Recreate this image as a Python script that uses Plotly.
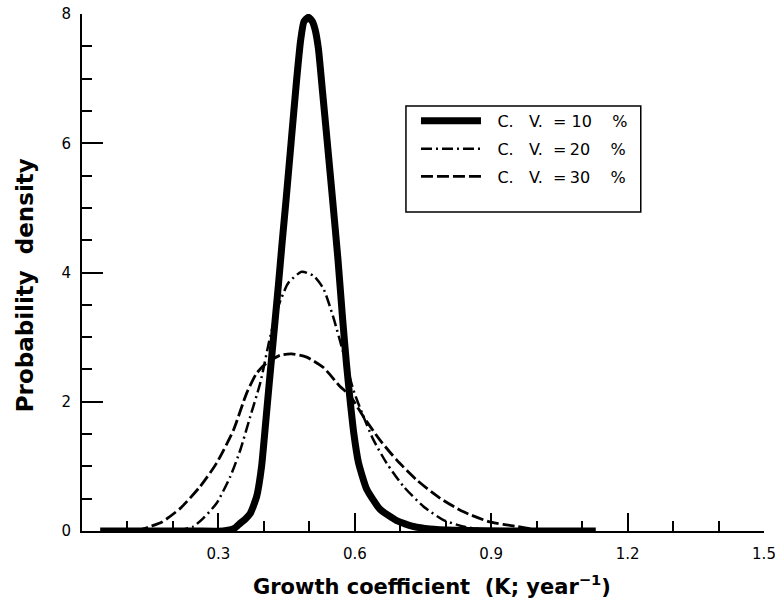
import plotly.graph_objects as go

# Growth coefficient K (year^-1) and probability density for three coefficients of variation
k_cv10 = [0.04, 0.15, 0.25, 0.31, 0.335, 0.348, 0.360, 0.370, 0.384, 0.395, 0.403, 0.412,
          0.421, 0.432, 0.440, 0.449, 0.461, 0.471, 0.481, 0.488, 0.498, 0.507, 0.513, 0.520,
          0.529, 0.539, 0.551, 0.563, 0.573, 0.582, 0.590, 0.598, 0.608, 0.626, 0.655, 0.692,
          0.729, 0.765, 0.82, 0.95, 1.13]
pd_cv10 = [0.0, 0.0, 0.0, 0.0, 0.04, 0.12, 0.19, 0.27, 0.53, 1.00, 1.60, 2.30,
           2.98, 3.81, 4.45, 5.14, 6.10, 6.90, 7.60, 7.88, 7.95, 7.88, 7.75, 7.46,
           6.80, 6.05, 5.14, 4.20, 3.30, 2.56, 2.00, 1.50, 1.06, 0.65, 0.34, 0.16,
           0.07, 0.03, 0.01, 0.0, 0.0]

k_cv20 = [0.21, 0.245, 0.267, 0.296, 0.326, 0.348, 0.370, 0.392, 0.414, 0.432, 0.454, 0.483,
          0.509, 0.531, 0.553, 0.575, 0.597, 0.619, 0.641, 0.670, 0.707, 0.751, 0.795, 0.838,
          0.90]
pd_cv20 = [0.0, 0.07, 0.20, 0.43, 0.84, 1.25, 1.77, 2.29, 3.01, 3.48, 3.84, 4.01,
           3.95, 3.75, 3.30, 2.75, 2.18, 1.77, 1.41, 1.05, 0.69, 0.38, 0.17, 0.07,
           0.0]

k_cv30 = [0.12, 0.15, 0.176, 0.216, 0.26, 0.296, 0.333, 0.362, 0.384, 0.406, 0.436, 0.461,
          0.494, 0.531, 0.567, 0.589, 0.619, 0.655, 0.692, 0.736, 0.787, 0.838, 0.897, 0.956,
          1.0, 1.06]
pd_cv30 = [0.0, 0.07, 0.14, 0.35, 0.69, 1.05, 1.56, 2.13, 2.44, 2.60, 2.72, 2.74,
           2.69, 2.53, 2.24, 2.10, 1.77, 1.41, 1.10, 0.79, 0.51, 0.30, 0.14, 0.07,
           0.02, 0.0]

NB = "\u00a0"
TS = "\u2009"
series_names = [NB + TS * 2 + "C." + NB * 3 + "V." + NB * 2 + "=" + NB + "10" + NB * 4 + "%",
                NB + TS * 2 + "C." + NB * 3 + "V." + NB * 2 + "=" + TS + "20" + NB * 4 + "%",
                NB + TS * 2 + "C." + NB * 3 + "V." + NB * 2 + "=" + TS + "30" + NB * 4 + "%"]

x_major = [0.3, 0.6, 0.9, 1.2, 1.5]
x_major_text = ["0.3", "0.6", "0.9", "1.2", "1.5"]
y_major = [0, 2, 4, 6, 8]

fig = go.Figure()
fig.add_trace(go.Scatter(x=k_cv10, y=pd_cv10, mode="lines", name=series_names[0],
                         legendgroup="cv10",
                         line=dict(color="black", width=7, shape="spline", smoothing=0.5)))
fig.add_trace(go.Scatter(x=k_cv20, y=pd_cv20, mode="lines", name=series_names[1],
                         legendgroup="cv20",
                         line=dict(color="black", width=2.5, shape="spline", smoothing=0.6,
                                   dash="11px,4px,2px,4px")))
fig.add_trace(go.Scatter(x=k_cv30, y=pd_cv30, mode="lines", name=series_names[2],
                         legendgroup="cv30",
                         line=dict(color="black", width=2.8, shape="spline", smoothing=0.6,
                                   dash="12px,4px")))

tick_font = dict(family="DejaVu Sans", size=15, color="black")

fig.update_layout(
    width=775, height=608,
    margin=dict(l=82, r=11, t=14, b=77),
    paper_bgcolor="white", plot_bgcolor="white",
    showlegend=True,
    legend=dict(x=0.4897, y=0.826, xanchor="left", yanchor="top",
                borderwidth=0, bgcolor="rgba(0,0,0,0)",
                font=dict(family="DejaVu Sans", size=16, color="black"),
                itemwidth=60, tracegroupgap=4, traceorder="grouped"),
    xaxis=dict(range=[0, 1.5], showgrid=False, zeroline=False, automargin=False,
               showline=True, linecolor="black", linewidth=2,
               tickmode="array", tickvals=x_major, ticktext=x_major_text,
               ticks="inside", ticklen=18, tickwidth=1.5, tickcolor="black",
               tickfont=tick_font, ticklabelstandoff=8, ticklabeloverflow="allow",
               minor=dict(tick0=0, dtick=0.1, ticks="inside", ticklen=10,
                          tickwidth=1.5, tickcolor="black")),
    yaxis=dict(range=[0, 8], showgrid=False, zeroline=False, automargin=False,
               showline=True, linecolor="black", linewidth=2,
               tickmode="array", tickvals=y_major,
               ticks="inside", ticklen=21, tickwidth=1.5, tickcolor="black",
               tickfont=tick_font, ticklabelstandoff=6, ticklabeloverflow="allow",
               minor=dict(tick0=0, dtick=0.5, ticks="inside", ticklen=10,
                          tickwidth=1.5, tickcolor="black")),
    shapes=[
        # frame around the legend entries
        dict(type="rect", xref="paper", yref="paper",
             x0=0.475, x1=0.8193, y0=0.617, y1=0.822,
             line=dict(color="black", width=1.5), fillcolor="rgba(0,0,0,0)"),
    ],
    annotations=[
        dict(text="Growth coefficient  (K; year<sup>−1</sup>)", xref="paper", yref="paper",
             x=0.513, y=-0.105, xanchor="center", yanchor="middle", showarrow=False,
             font=dict(family="DejaVu Sans", size=21, color="black", weight="bold")),
        dict(text="Probability  density", xref="paper", yref="paper",
             x=-0.083, y=0.476, xanchor="center", yanchor="middle", showarrow=False,
             textangle=-90,
             font=dict(family="DejaVu Sans", size=23, color="black", weight="bold")),
    ],
)

fig.write_html("out.html")
